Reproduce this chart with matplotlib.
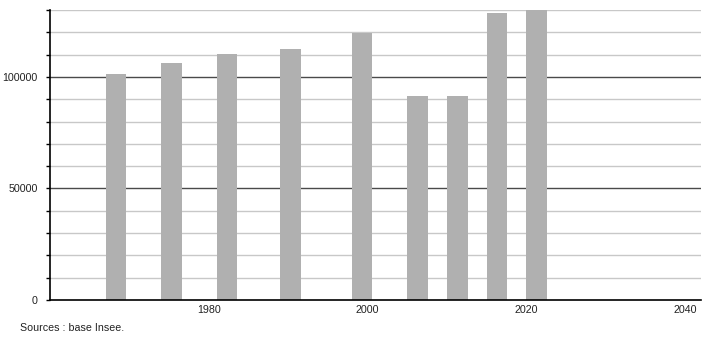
import matplotlib
matplotlib.use("Agg")
import matplotlib.pyplot as plt
import numpy as np

plt.rcParams['font.family'] = ['Liberation Sans', 'DejaVu Sans']

# census years and population
years = [1968, 1975, 1982, 1990, 1999, 2006, 2011, 2016, 2021]
population = [101500, 106400, 110500, 112600, 119750, 91300, 91300, 128700, 129800]

x_ticks = [1980, 2000, 2020, 2040]
y_major = [0, 50000, 100000]
y_minor = np.arange(0, 130001, 10000)

fig = plt.figure(figsize=(7.1, 3.4), dpi=100)
ax = fig.add_axes([50 / 710, 40 / 340, 651 / 710, 290 / 340])

# grid lines: light every 10000, dark at 50000 steps
for v in y_minor:
    if v in y_major:
        continue
    ax.axhline(v, color='#c8c8c8', linewidth=1.0, zorder=0)
for v in y_major[1:]:
    ax.axhline(v, color='#4a4a4a', linewidth=1.0, zorder=1)

# bars are drawn slightly right of the census year
ax.bar(np.array(years) + 0.3, population, width=2.6, color='#b0b0b0', zorder=2)

ax.set_xlim(1960, 2042)
ax.set_ylim(0, 130000)

ax.set_xticks(x_ticks)
ax.set_xticklabels([str(t) for t in x_ticks], fontsize=7.7, color='#222222')
ax.tick_params(axis='x', length=0, pad=3.5)

ax.set_yticks(y_minor, minor=True)
ax.set_yticks(y_major)
ax.set_yticklabels([str(v) for v in y_major], fontsize=7.7, color='#222222')
ax.tick_params(axis='y', which='both', direction='out', length=3, width=1, color='black', pad=6)

for side in ['top', 'right']:
    ax.spines[side].set_visible(False)
ax.spines['left'].set_color('black')
ax.spines['bottom'].set_color('black')
ax.spines['left'].set_linewidth(1.2)
ax.spines['bottom'].set_linewidth(1.2)

fig.text(20 / 710, 1 - 328 / 340, "Sources : base Insee.", fontsize=7.7,
         color='#222222', va='center', ha='left')

fig.savefig('out.png', dpi=100)
